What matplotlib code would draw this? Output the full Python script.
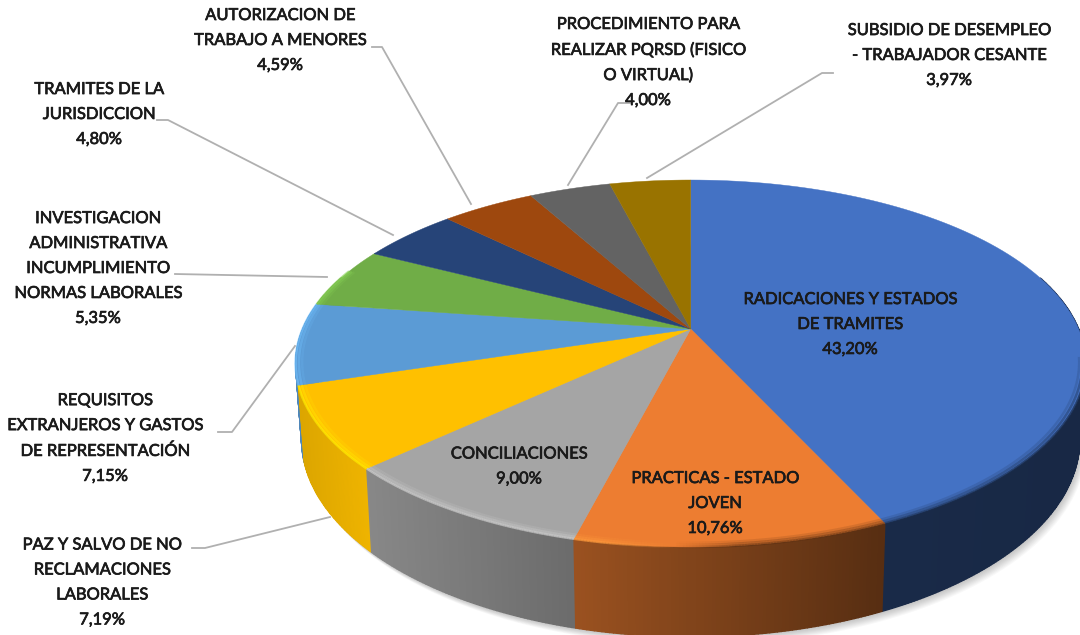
import numpy as np
import matplotlib
matplotlib.use("Agg")
import matplotlib.pyplot as plt
import matplotlib.patheffects as pe
from matplotlib.collections import LineCollection
from matplotlib.colors import to_rgb

labels = ["RADICACIONES Y ESTADOS\nDE TRAMITES", "PRACTICAS - ESTADO\nJOVEN", "CONCILIACIONES",
          "PAZ Y SALVO DE NO\nRECLAMACIONES\nLABORALES", "REQUISITOS\nEXTRANJEROS Y GASTOS\nDE REPRESENTACIÓN",
          "INVESTIGACION\nADMINISTRATIVA\nINCUMPLIMIENTO\nNORMAS LABORALES", "TRAMITES DE LA\nJURISDICCION",
          "AUTORIZACION DE\nTRABAJO A MENORES", "PROCEDIMIENTO PARA\nREALIZAR PQRSD (FISICO\nO VIRTUAL)",
          "SUBSIDIO DE DESEMPLEO\n- TRABAJADOR CESANTE"]
values = [43.20, 10.76, 9.00, 7.19, 7.15, 5.35, 4.80, 4.59, 4.00, 3.97]
colors = ["#4472C4", "#ED7D31", "#A5A5A5", "#FFC000", "#5B9BD5",
          "#70AD47", "#264478", "#9E480E", "#636363", "#997300"]

# label centre in pixels
label_pos = [(850, 324), (715, 503), (519, 466), (102, 582), (105, 438),
             (98, 268), (99, 114), (280, 40), (648, 62), (949, 55)]
# leader lines in pixels, None when the label sits on the slice
leaders = [None, None, None,
           [(192, 548), (205, 548), (330, 517)],
           [(218, 432), (232, 432), (295, 346)],
           [(175, 274), (327, 277)],
           [(157, 120), (168, 120), (393, 235)],
           [(372, 47), (382, 47), (471, 204)],
           [(630, 103), (618, 103), (568, 185)],
           [(833, 73), (822, 73), (647, 178)]]

# perspective of the disc
cx, cy = 690.7, 329
a, b, k = 388, 177, 0.188
depth = 73

def project(theta, r=1.0):
    X = r * np.sin(theta)
    Y = r * np.cos(theta)
    w = 1 + k * Y
    return cx + a * X / w, cy - b * Y / w

def project_bottom(theta):
    X = np.sin(theta)
    Y = np.cos(theta)
    w = 1 + k * Y
    return cx + 0.985 * a * X / w, cy + (depth - b * Y) / w

def shade(color, f):
    return tuple(np.clip(np.array(to_rgb(color)) * f, 0, 1))

fig = plt.figure(figsize=(10.8, 6.35), dpi=100)
ax = fig.add_axes([0, 0, 1, 1])
ax.set_xlim(0, 1080)
ax.set_ylim(635, 0)
ax.axis("off")

edges = np.cumsum([0] + values) / sum(values) * 2 * np.pi

# soft shadow under the pie
t = np.linspace(0, 2 * np.pi, 300)
bx, by = project_bottom(t)
for i in range(1, 10):
    ax.fill(bx + i * 0.7, by + i * 0.9, color="black", alpha=0.028, lw=0, zorder=1)

# side wall, thin strips shaded by x position, back strips drawn first
strips = []
for i in range(len(values)):
    n = max(int((edges[i + 1] - edges[i]) * 120), 4)
    ts = np.linspace(edges[i], edges[i + 1], n + 1)
    for t0, t1 in zip(ts[:-1], ts[1:]):
        if np.cos(t0) > 0.3 and np.cos(t1) > 0.3:
            continue
        strips.append((np.cos((t0 + t1) / 2), i, t0, t1))
strips.sort(key=lambda s: -s[0])

for _, i, t0, t1 in strips:
    x0, y0 = project(t0)
    x1, y1 = project(t1)
    x2, y2 = project_bottom(t1)
    x3, y3 = project_bottom(t0)
    xm = (x0 + x1) / 2
    f = np.interp(xm, [297, 370, 577, 880, 1080], [0.87, 0.82, 0.65, 0.37, 0.35])
    if i == 3:
        f = np.interp(xm, [297, 370], [0.86, 0.94])
    c = shade(colors[i], f)
    ax.fill([x0, x1, x2, x3], [y0, y1, y2, y3], fc=c, ec=c, lw=1.0, zorder=2)

# top face
for i in range(len(values)):
    ts = np.linspace(edges[i], edges[i + 1], 100)
    x, y = project(ts)
    ax.fill(np.r_[cx, x], np.r_[cy, y], color=colors[i], lw=0.3, ec=colors[i], zorder=3)

# rim of the top face, light on the left and dark on the right
for i in range(len(values)):
    ts = np.linspace(edges[i], edges[i + 1], 100)
    limit = -0.15 if i == 0 else 0.35
    ts = ts[np.cos(ts) < limit]
    if len(ts) < 2:
        continue
    for r, strength in zip([1.0, 0.992, 0.984], [1.0, 0.6, 0.25]):
        xr, yr = project(ts, r)
        pts = np.column_stack([xr, yr])
        segs = np.stack([pts[:-1], pts[1:]], axis=1)
        s = np.interp((xr[:-1] + xr[1:]) / 2, [300, 600, 740, 1080], [0.7, 0.7, -0.6, -0.7]) * strength
        rgba = []
        for v in s:
            base = shade(colors[i], 1.25) if v > 0 else shade(colors[i], 0.4)
            rgba.append(base + (abs(v),))
        ax.add_collection(LineCollection(segs, colors=rgba, linewidths=1.8, zorder=4))

# leader lines
for pts in leaders:
    if pts is None:
        continue
    ax.plot([p[0] for p in pts], [p[1] for p in pts], color="#B0B0B0", lw=1.3, zorder=5)

# data labels
for lab, val, pos in zip(labels, values, label_pos):
    txt = lab + "\n" + f"{val:.2f}%".replace(".", ",")
    ax.text(pos[0], pos[1], txt, ha="center", va="center", family="Lato", fontsize=11.9,
            color="#1A1A1A", linespacing=1.69, zorder=6,
            path_effects=[pe.withStroke(linewidth=0.5, foreground="#1A1A1A")])

fig.savefig("out.png", dpi=100)
